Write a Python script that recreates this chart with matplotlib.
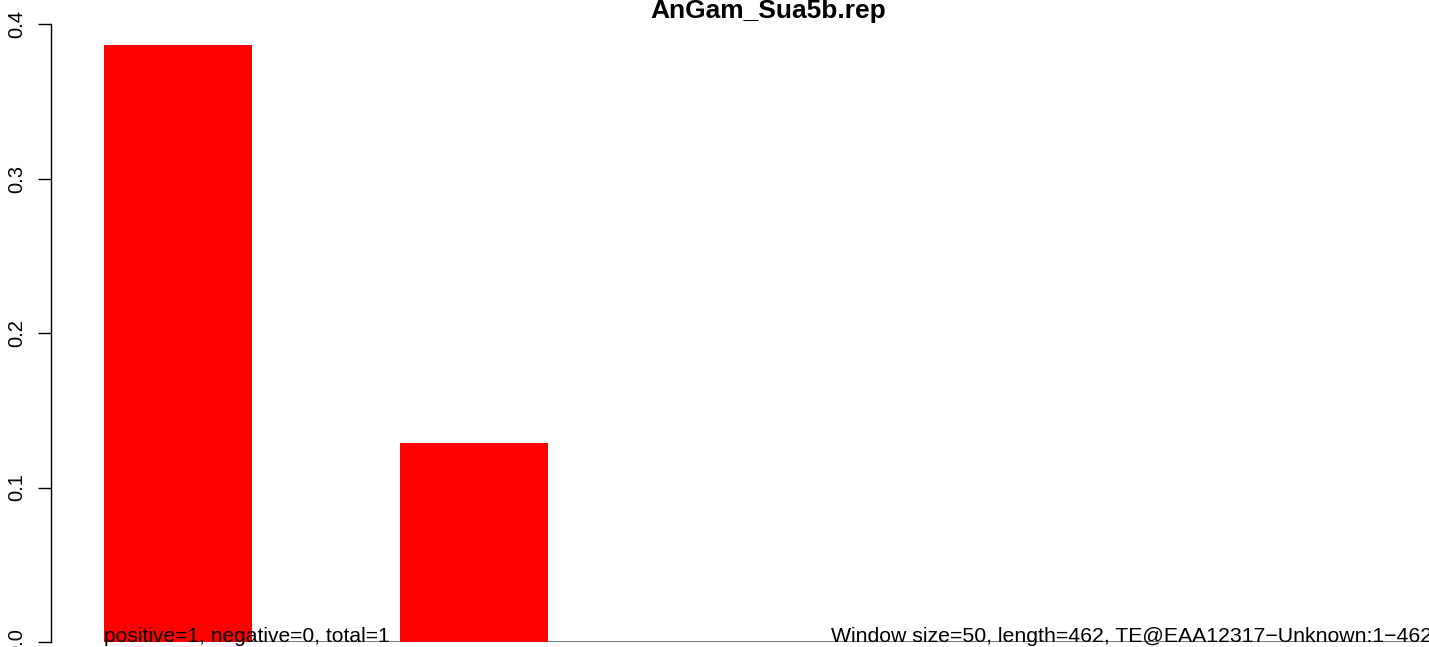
import numpy as np
from matplotlib import pyplot as plt

plt.rcParams['font.family'] = ['Liberation Sans', 'DejaVu Sans']

# one value per window of 50 bp along the 462 bp element
windows = list(range(1, 11))
values = [0.3864, 0.1288, 0, 0, 0, 0, 0, 0, 0, 0]
yticks = [0.0, 0.1, 0.2, 0.3, 0.4]

title = "AnGam_Sua5b.rep"
left_note = "positive=1, negative=0, total=1"
right_note = "Window size=50, length=462, TE@EAA12317\u2212Unknown:1\u2212462"

W, H = 1429, 647
fig = plt.figure(figsize=(W / 100, H / 100), dpi=100)
ax = fig.add_axes([51 / W, 5 / H, (W - 51) / W, (642 - 24) / H])

lefts = [2 * w - 1 for w in windows]
ax.bar(lefts, values, width=1, align='edge', color='red', linewidth=0, zorder=2)
ax.set_xlim(0.642, 0.642 + (W - 51) / 148)
ax.set_ylim(0, 0.4)
ax.hlines(0, 1, 30, color='#555555', lw=1.1, zorder=1)

for s in ['top', 'right', 'bottom']:
    ax.spines[s].set_visible(False)
ax.spines['left'].set_linewidth(1)
ax.set_xticks([])
ax.set_yticks(yticks)
ax.set_yticklabels(["%.1f" % t for t in yticks], rotation=90, va='center', fontsize=14.5)
ax.tick_params(axis='y', length=9.5, width=1, pad=8)

fig.text(768 / W, 1 - 18 / H, title, ha='center', va='baseline',
         fontsize=19, fontweight='bold')
ax.text(1, 0.0, left_note, ha='left', va='baseline', fontsize=15.1,
        transform=ax.transData, clip_on=False, zorder=3)
fig.text(1432 / W, 5.5 / H, right_note, ha='right', va='baseline', fontsize=15.3)

fig.savefig("out.png", dpi=100)
